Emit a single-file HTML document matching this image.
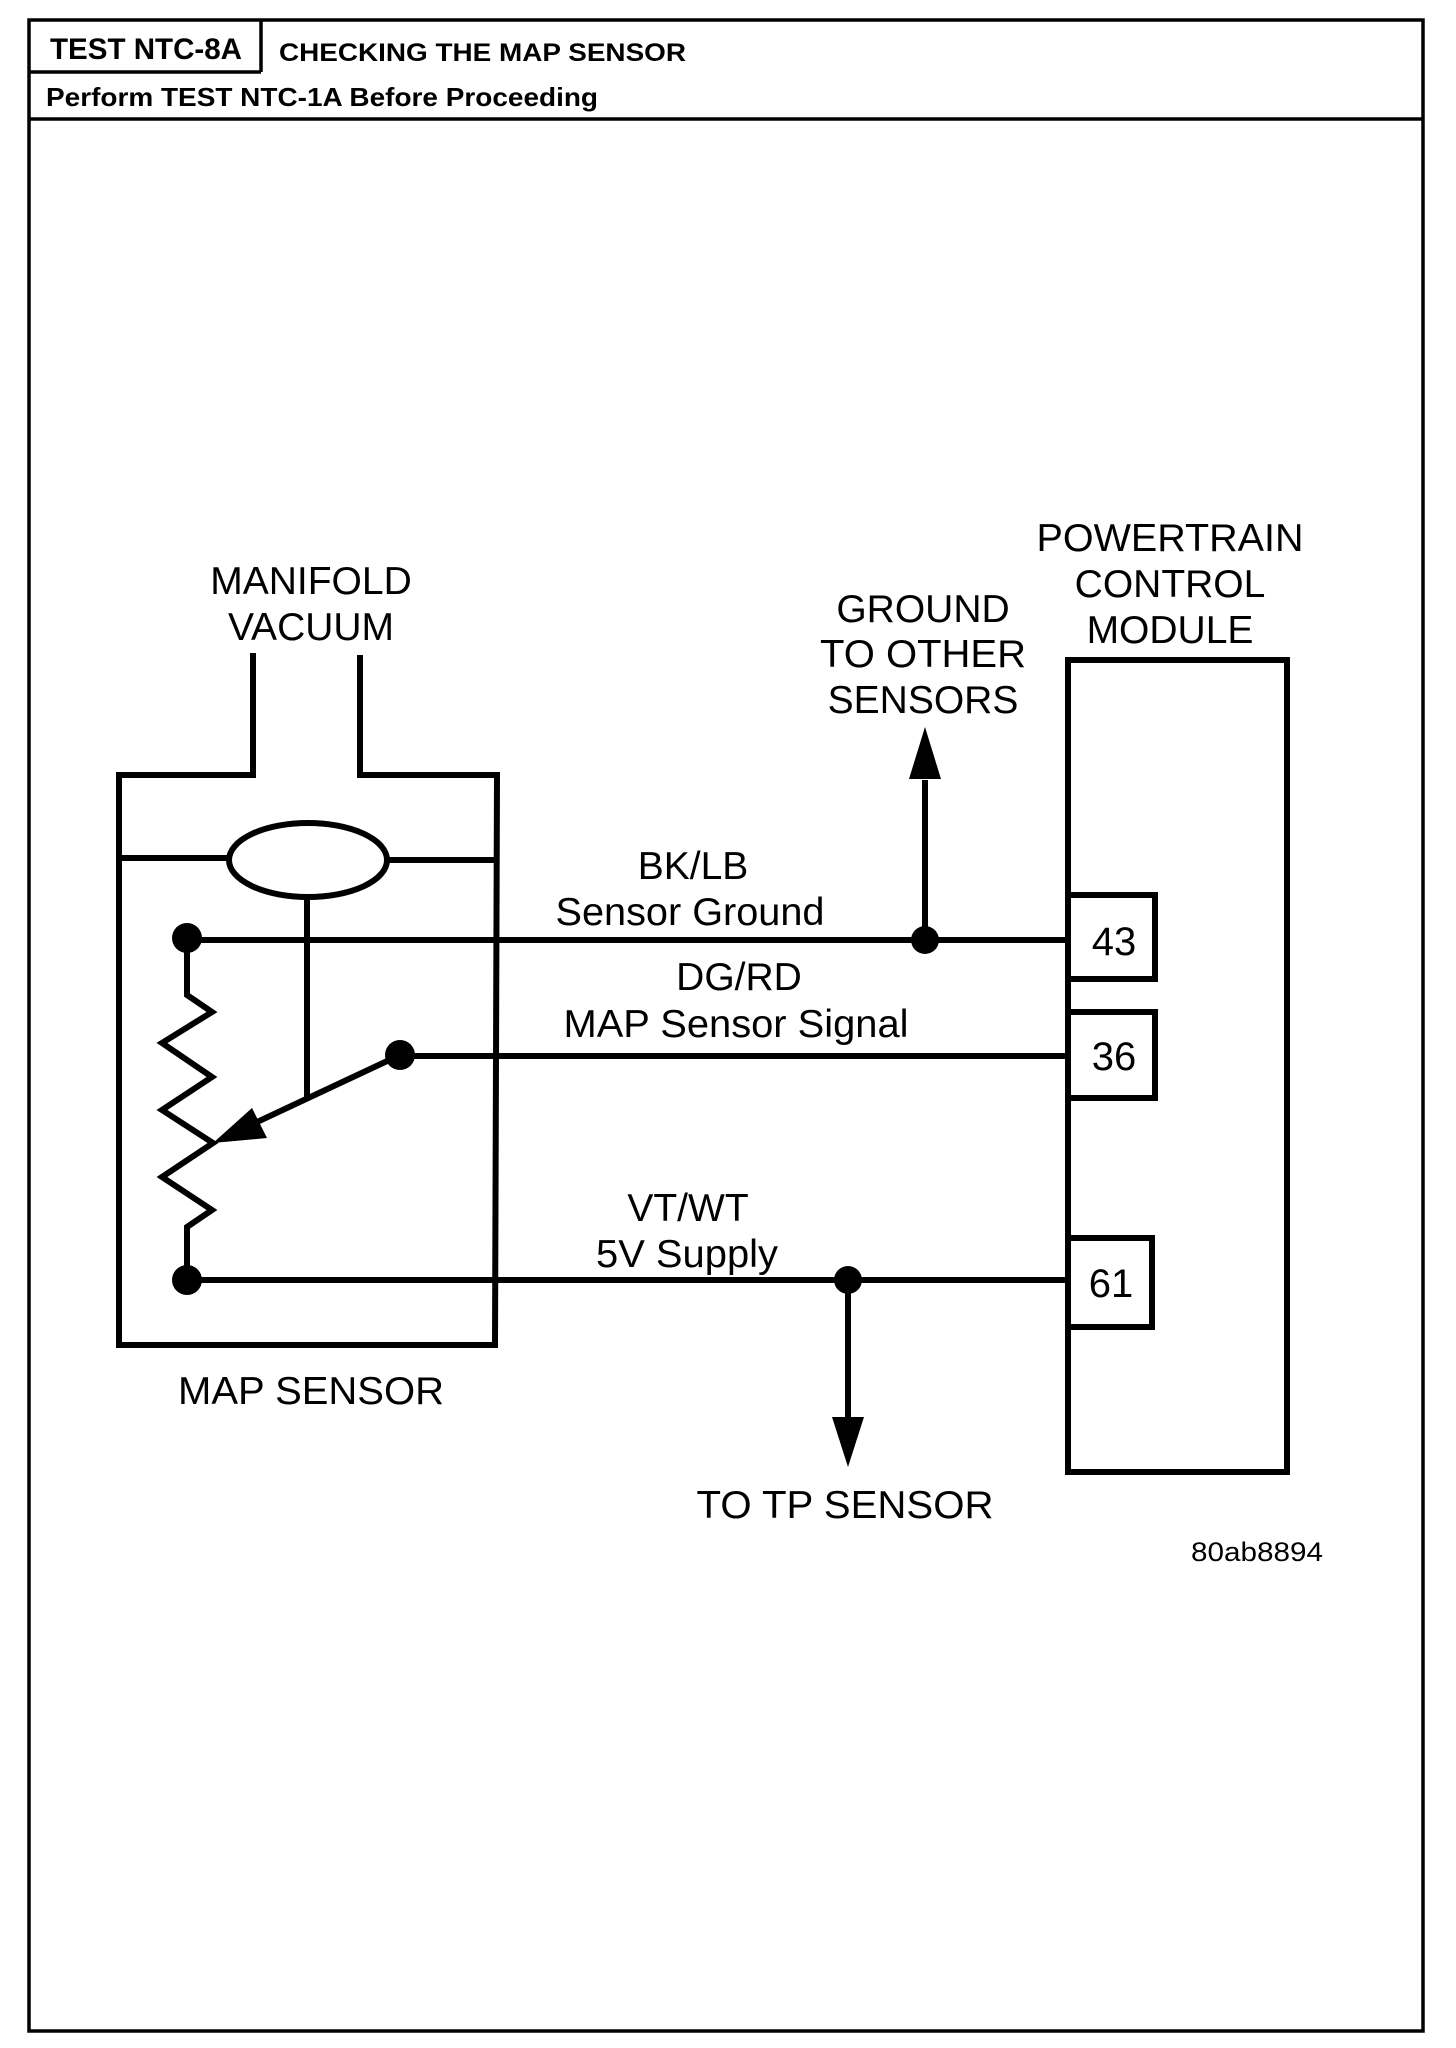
<!DOCTYPE html>
<html><head><meta charset="utf-8"><style>
html,body{margin:0;padding:0;background:#fff;}
svg{display:block;}
text{font-family:"Liberation Sans",sans-serif;fill:#000;}
</style></head><body>
<svg width="1456" height="2048" viewBox="0 0 1456 2048" xmlns="http://www.w3.org/2000/svg">
<g fill="none" stroke="#000" stroke-width="3.5">
<rect x="29" y="20" width="1394" height="2011"/>
<line x1="29" y1="119" x2="1423" y2="119"/>
<line x1="29" y1="72" x2="261" y2="72"/>
<line x1="261" y1="20" x2="261" y2="72"/>
</g>
<text x="50" y="59" font-size="30" font-weight="bold" textLength="192" lengthAdjust="spacingAndGlyphs">TEST NTC-8A</text>
<text x="279" y="61" font-size="25" font-weight="bold" textLength="407" lengthAdjust="spacingAndGlyphs">CHECKING THE MAP SENSOR</text>
<text x="46" y="106" font-size="26" font-weight="bold" textLength="552" lengthAdjust="spacingAndGlyphs">Perform TEST NTC-1A Before Proceeding</text>

<g fill="none" stroke="#000" stroke-width="6" stroke-linejoin="miter">
<polyline points="253,653 253,775 119,775 119,1345 495,1345 497,775 360,775 360,655"/>
<line x1="119" y1="858" x2="229" y2="858"/>
<line x1="387" y1="860" x2="497" y2="860"/>
<ellipse cx="308" cy="860" rx="79" ry="37"/>
<line x1="307" y1="897" x2="307" y2="1099"/>
<polyline points="187,938 187,995 212,1012 162,1043 212,1077 162,1110 213,1143 162,1177 212,1210 187,1227 187,1280"/>
<line x1="400" y1="1055" x2="240" y2="1130"/>
<line x1="187" y1="940" x2="1068" y2="940"/>
<line x1="400" y1="1056" x2="1068" y2="1056"/>
<line x1="187" y1="1280" x2="1068" y2="1280"/>
<line x1="925" y1="940" x2="925" y2="780"/>
<line x1="848" y1="1280" x2="848" y2="1420"/>
<rect x="1068" y="660" width="219" height="812"/>
<rect x="1068" y="895" width="87" height="84"/>
<rect x="1068" y="1012" width="87" height="86"/>
<rect x="1068" y="1238" width="84" height="89"/>
</g>
<g fill="#000">
<polygon points="213,1143 252,1108 267,1138"/>
<circle cx="187" cy="938" r="15"/>
<circle cx="187" cy="1280" r="15"/>
<circle cx="400" cy="1055" r="15"/>
<circle cx="925" cy="940" r="14"/>
<circle cx="848" cy="1280" r="14"/>
<polygon points="925,727 909,779 941,779"/>
<polygon points="848,1467 832,1417 864,1417"/>
</g>
<g font-size="39" text-anchor="middle">
<text x="311" y="594">MANIFOLD</text>
<text x="311" y="640">VACUUM</text>
<text x="1170" y="551" textLength="267" lengthAdjust="spacingAndGlyphs">POWERTRAIN</text>
<text x="1170" y="597">CONTROL</text>
<text x="1170" y="643">MODULE</text>
<text x="923" y="622">GROUND</text>
<text x="923" y="667" textLength="206" lengthAdjust="spacingAndGlyphs">TO OTHER</text>
<text x="923" y="713">SENSORS</text>
<text x="693" y="879">BK/LB</text>
<text x="690" y="925" textLength="269" lengthAdjust="spacingAndGlyphs">Sensor Ground</text>
<text x="739" y="990">DG/RD</text>
<text x="736" y="1037" textLength="345" lengthAdjust="spacingAndGlyphs">MAP Sensor Signal</text>
<text x="688" y="1221">VT/WT</text>
<text x="687" y="1267" textLength="182" lengthAdjust="spacingAndGlyphs">5V Supply</text>
<text x="311" y="1404" textLength="266" lengthAdjust="spacingAndGlyphs">MAP SENSOR</text>
<text x="845" y="1518" textLength="297" lengthAdjust="spacingAndGlyphs">TO TP SENSOR</text>
</g>
<g font-size="40" text-anchor="middle">
<text x="1114" y="955">43</text>
<text x="1114" y="1070">36</text>
<text x="1111" y="1297">61</text>
</g>
<text x="1191" y="1561" font-size="27" textLength="132" lengthAdjust="spacingAndGlyphs">80ab8894</text>
</svg>
</body></html>
